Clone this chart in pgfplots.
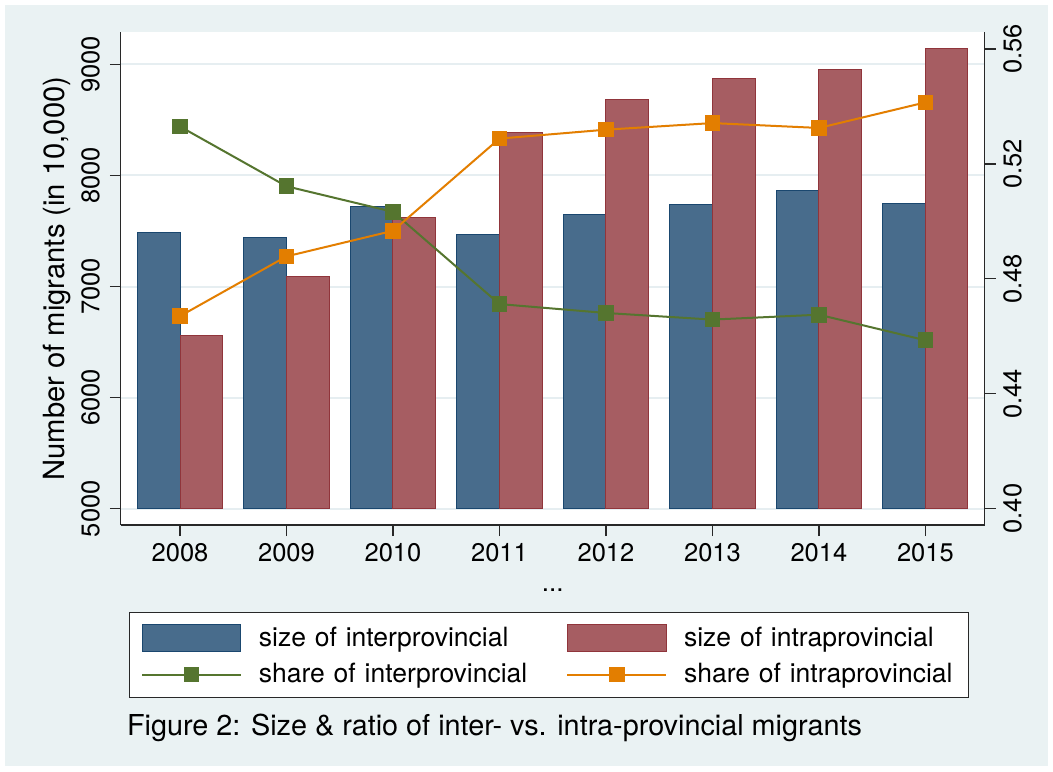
\documentclass[border=0pt]{standalone}
\usepackage{fontspec}
\setmainfont{TeX Gyre Heros}
\usepackage{pgfplots}
\pgfplotsset{compat=1.18}

\definecolor{bgc}{RGB}{234,242,243}
\definecolor{gridc}{RGB}{230,238,241}
\definecolor{navyc}{RGB}{26,71,111}
\definecolor{navyf}{RGB}{72,108,140}
\definecolor{maroonc}{RGB}{144,53,59}
\definecolor{maroonf}{RGB}{166,93,98}
\definecolor{fgreen}{RGB}{85,117,47}
\definecolor{dkorange}{RGB}{227,126,0}
\definecolor{axc}{RGB}{40,40,40}

\pgfplotsset{
  barlegend/.style={legend image code/.code={\draw[##1] (0pt,-6.85pt) rectangle (49.3pt,6.85pt);}},
  linelegend/.style={legend image code/.code={\draw[mark repeat=2,mark phase=2,##1] plot coordinates {(0pt,0pt) (24.65pt,0pt) (49.3pt,0pt)};}},
  common/.style={
    at={(60.35pt,123pt)}, anchor=south west,
    width=432pt, height=246.35pt, scale only axis,
    xmin=2007.443, xmax=2015.557,
    /pgf/number format/assume math mode=true,
    /pgf/number format/1000 sep={},
  },
}

\newcommand{\tickfont}{\fontsize{12.75}{15}\selectfont}

\begin{document}
\begin{tikzpicture}
\path[use as bounding box] (0,0) rectangle (526.5pt,385.5pt);
\fill[white] (0,0) rectangle (526.5pt,385.5pt);
\fill[bgc] (2.5pt,2.5pt) rectangle (524pt,383pt);

% main axis: frame, grid, left ticks, x ticks
\begin{axis}[common,
  ymin=4853, ymax=9289,
  axis background/.style={fill=white},
  axis x line*=bottom, axis y line*=left,
  axis line style={axc, line width=0.7pt},
  tick align=outside, major tick length=5.5pt,
  tick style={axc, line width=0.7pt},
  xtick={2008,2009,2010,2011,2012,2013,2014,2015},
  xticklabels={2008,2009,2010,2011,2012,2013,2014,2015},
  ytick={5000,6000,7000,8000,9000},
  ymajorgrids, major grid style={gridc, line width=1pt},
  xticklabel style={font=\tickfont, inner sep=0pt, anchor=north, yshift=-3.65pt},
  yticklabel style={font=\tickfont, inner sep=0pt, xshift=-4.85pt, rotate=90, anchor=south},
  ylabel={Number of migrants (in 10,000)},
  every axis y label/.style={at={(axis description cs:-0.0737,0.5)}, rotate=90, anchor=center, inner sep=0pt, font=\fontsize{14.6}{17}\selectfont},
  xlabel={...},
  every axis x label/.style={at={(axis description cs:0.5,-0.134)}, anchor=base, inner sep=0pt, font=\fontsize{13}{15}\selectfont},
]
\end{axis}

% bar axis: bars start at 5000
\begin{axis}[common,
  at={(60.35pt,131.15pt)}, height=238.2pt,
  ymin=5000, ymax=9289, hide axis,
]
\addplot[ybar, bar width=0.4, bar shift=-0.2, fill=navyf, draw=navyc, line width=0.5pt]
  coordinates {(2008,7483) (2009,7441) (2010,7718) (2011,7473) (2012,7647) (2013,7737) (2014,7863) (2015,7744)};
\addplot[ybar, bar width=0.4, bar shift=0.2, fill=maroonf, draw=maroonc, line width=0.5pt]
  coordinates {(2008,6556) (2009,7087) (2010,7618) (2011,8385) (2012,8688) (2013,8874) (2014,8955) (2015,9142)};
\end{axis}

% right axis: shares
\begin{axis}[common,
  ymin=0.3943, ymax=0.5658,
  axis y line*=right, axis x line=none,
  axis line style={axc, line width=0.7pt},
  tick align=outside, major tick length=5.5pt,
  tick style={axc, line width=0.7pt},
  ytick={0.40,0.44,0.48,0.52,0.56},
  yticklabel style={font=\tickfont, inner sep=0pt, xshift=3.65pt, rotate=90, anchor=north,
    /pgf/number format/fixed, /pgf/number format/fixed zerofill, /pgf/number format/precision=2},
  legend columns=2, legend cell align=left,
  legend style={at={(axis description cs:0.00995,-0.176)}, anchor=north west,
    draw=axc, line width=0.6pt, fill=white,
    inner xsep=5.7pt, inner ysep=5.8pt, row sep=5.55pt,
    font=\fontsize{13.25}{15}\selectfont,
    /tikz/every odd column/.style={column sep=8.5pt},
    /tikz/every even column/.style={column sep=17.5pt},
    nodes={inner sep=0pt, text width=136.3pt, align=left, anchor=west}},
]
\addlegendimage{barlegend, fill=navyf, draw=navyc, line width=0.5pt}
\addlegendentry{size of interprovincial}
\addlegendimage{barlegend, fill=maroonf, draw=maroonc, line width=0.5pt}
\addlegendentry{size of intraprovincial}
\addplot[linelegend, color=fgreen, line width=1pt, mark=square*, mark size=3.4pt, mark options={solid, fill=fgreen, draw=fgreen}]
  coordinates {(2008,0.5330) (2009,0.5122) (2010,0.5033) (2011,0.4712) (2012,0.4681) (2013,0.4658) (2014,0.4675) (2015,0.4586)};
\addlegendentry{share of interprovincial}
\addplot[linelegend, color=dkorange, line width=1pt, mark=square*, mark size=3.4pt, mark options={solid, fill=dkorange, draw=dkorange}]
  coordinates {(2008,0.4670) (2009,0.4878) (2010,0.4967) (2011,0.5288) (2012,0.5319) (2013,0.5342) (2014,0.5325) (2015,0.5414)};
\addlegendentry{share of intraprovincial}
\end{axis}

\node[anchor=base west, inner sep=0pt, font=\fontsize{14.4}{17}\selectfont] at (63.35pt,18pt)
  {Figure 2: Size \& ratio of inter- vs. intra-provincial migrants};
\end{tikzpicture}
\end{document}
